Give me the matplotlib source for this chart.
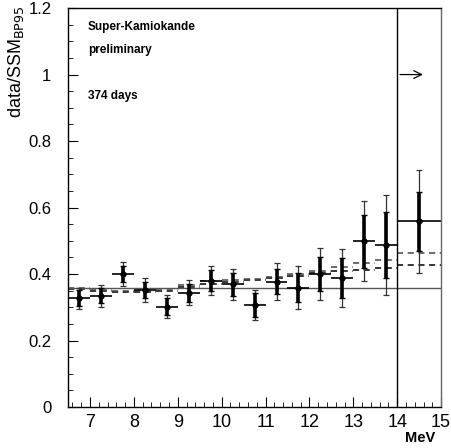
"""Super-Kamiokande recoil electron spectrum, data / SSM(BP95)."""

import numpy as np
import matplotlib
matplotlib.use('Agg')
import matplotlib.pyplot as plt
from matplotlib.ticker import MultipleLocator

plt.rcParams.update({'font.family': ['Liberation Sans', 'DejaVu Sans']})

# bin centres and half widths (MeV)
energy = [6.75, 7.25, 7.75, 8.25, 8.75, 9.25, 9.75, 10.25, 10.75,
          11.25, 11.75, 12.25, 12.75, 13.25, 13.75, 14.5]
half_width = [0.25] * 15 + [0.5]

ratio = [0.327, 0.335, 0.400, 0.352, 0.302, 0.344, 0.380, 0.369, 0.307,
         0.377, 0.359, 0.400, 0.387, 0.499, 0.487, 0.559]
err_stat = [0.024, 0.022, 0.025, 0.025, 0.025, 0.027, 0.032, 0.035, 0.035,
            0.037, 0.043, 0.050, 0.060, 0.080, 0.100, 0.089]
err_tot = [0.032, 0.033, 0.035, 0.035, 0.035, 0.037, 0.043, 0.046, 0.046,
           0.056, 0.064, 0.077, 0.087, 0.120, 0.150, 0.155]

# expected spectra (two distortion hypotheses), per bin
model_lo = [0.356, 0.349, 0.345, 0.345, 0.350, 0.360, 0.370, 0.376, 0.382,
            0.388, 0.395, 0.402, 0.410, 0.412, 0.418, 0.427]
model_hi = [0.358, 0.353, 0.349, 0.349, 0.354, 0.366, 0.378, 0.382, 0.386,
            0.392, 0.400, 0.410, 0.421, 0.432, 0.442, 0.462]

flat_level = 0.357

fig = plt.figure(figsize=(4.51, 4.48), dpi=100)
ax = fig.add_axes([0.151, 0.0915, 0.827, 0.8905])

x = np.array(energy)
hw = np.array(half_width)

# dashed step lines for the two model curves
for vals, col in [(model_lo, 'black'), (model_hi, '#444444')]:
    for xi, w, v in zip(x, hw, vals):
        ax.plot([xi - w, xi + w], [v, v], ls=(0, (4, 3)), color=col, lw=1.1)

ax.axhline(flat_level, color='#555555', lw=1.0)
ax.axvline(14.0, color='black', lw=1.0)

# total error (thin), statistical error (thick), bin width (thin)
ax.errorbar(x, ratio, yerr=err_tot, fmt='none', ecolor='#333333',
            elinewidth=0.9, capsize=2.5, capthick=0.9)
ax.errorbar(x, ratio, yerr=err_stat, fmt='none', ecolor='black',
            elinewidth=2.6, capsize=2.0, capthick=1.0)
ax.errorbar(x, ratio, xerr=hw, fmt='o', color='black', ms=3.5,
            elinewidth=1.2)

ax.annotate('', xy=(14.65, 1.0), xytext=(14.0, 1.0),
            arrowprops=dict(arrowstyle='->', color='black', lw=0.9,
                            mutation_scale=14))

ax.text(6.95, 1.143, 'Super-Kamiokande', fontsize=8.5, fontweight='bold', va='center')
ax.text(6.95, 1.074, 'preliminary', fontsize=8.5, fontweight='bold', va='center')
ax.text(6.95, 0.935, '374 days', fontsize=8.5, fontweight='bold', va='center')

ax.set_xlim(6.5, 15)
ax.set_ylim(0, 1.2)
ax.set_xticks(range(7, 16))
ax.xaxis.set_minor_locator(MultipleLocator(0.2))
ax.set_yticks([0, 0.2, 0.4, 0.6, 0.8, 1.0, 1.2])
ax.set_yticklabels(['0', '0.2', '0.4', '0.6', '0.8', '1', '1.2'])
ax.yaxis.set_minor_locator(MultipleLocator(0.05))
ax.tick_params(which='both', direction='in', labelsize=13, top=False, right=False)
ax.tick_params(which='major', length=7)
ax.tick_params(which='minor', length=3.5)
ax.tick_params(axis='x', which='major', pad=5)
ax.tick_params(axis='y', which='major', pad=12, labelsize=12)
for s in ax.spines.values():
    s.set_linewidth(1.0)
ax.spines['right'].set_color('#666666')

ax.set_ylabel(r'data/SSM$_{\mathrm{BP95}}$', fontsize=13, va='center')
ax.yaxis.set_label_coords(-0.14, 0.865)
ax.text(0.985, -0.06, 'MeV', transform=ax.transAxes, ha='right', va='top',
        fontsize=10.5, fontweight='bold')

fig.savefig('out.png', dpi=100)
